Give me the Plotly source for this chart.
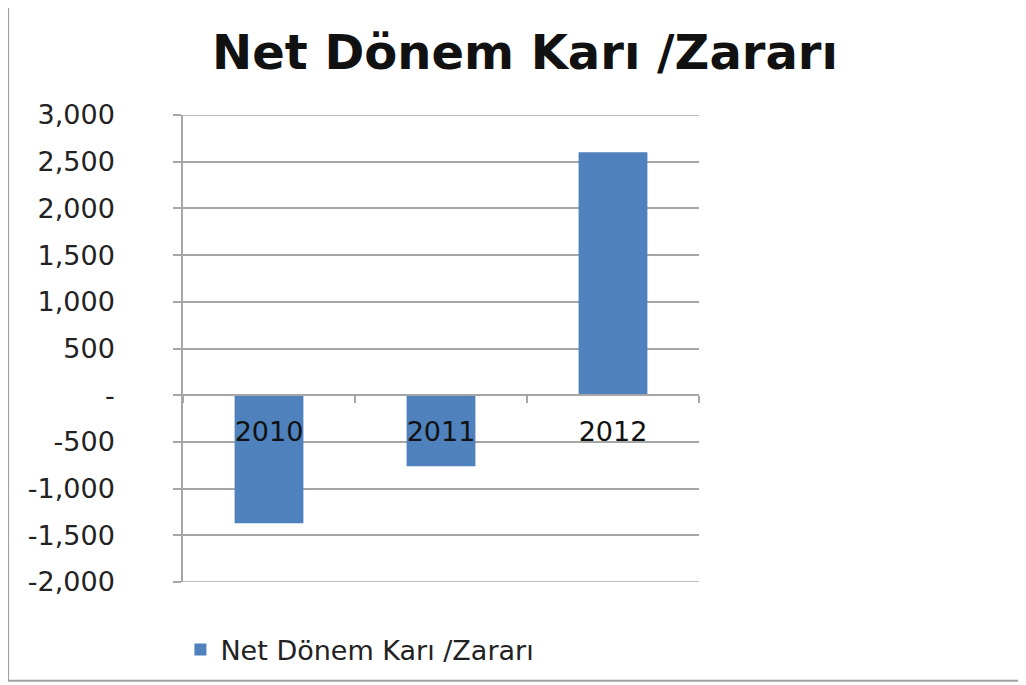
import plotly.graph_objects as go

years = ["2010", "2011", "2012"]
values = [-1370, -760, 2600]
series_name = "Net Dönem Karı /Zararı"
y_ticks = [-2000, -1500, -1000, -500, 0, 500, 1000, 1500, 2000, 2500, 3000]
y_tick_labels = ["-2,000", "-1,500", "-1,000", "-500", "-", "500", "1,000", "1,500", "2,000", "2,500", "3,000"]
y_min, y_max = y_ticks[0], y_ticks[-1]

GRID = "#a6a6a6"
BAR = "#4f81bd"
FONT = "DejaVu Sans"

fig = go.Figure()
fig.add_trace(go.Bar(x=years, y=values, name=series_name, marker_color=BAR,
                     marker_line_width=0, width=0.4, showlegend=True))

W, H = 1018, 677  # page has an 8px body offset
fig.update_layout(
    width=W, height=H,
    margin=dict(l=175, r=327, t=107, b=102),
    paper_bgcolor="white", plot_bgcolor="white",
    font=dict(family=FONT, size=25, color="#222222"),
    title=dict(text="<b>Net Dönem Karı /Zararı</b>", x=(525 - 8) / W, xref="container", xanchor="center",
               y=1 - (52 - 8) / H, yref="container", yanchor="middle",
               font=dict(family=FONT, size=48, color="#111111")),
    showlegend=True,
    legend=dict(x=-0.005, y=-0.143, xanchor="left", yanchor="middle", orientation="h",
                font=dict(family=FONT, size=27, color="#222222"), bgcolor="rgba(0,0,0,0)"),
    xaxis=dict(type="category", anchor="free", position=(0 - y_min) / (y_max - y_min),
               showline=True, linecolor=GRID,
               linewidth=1.5, ticks="outside", tickson="boundaries", ticklen=7, tickcolor=GRID,
               tickwidth=1.5, showgrid=False, ticklabelstandoff=13,
               tickfont=dict(family=FONT, size=27, color="#111111")),
    yaxis=dict(range=[y_min, y_max], tickvals=y_ticks, ticktext=y_tick_labels, showline=True,
               linecolor=GRID, linewidth=1.5, ticks="outside", ticklen=8, tickcolor=GRID,
               tickwidth=1.5, showgrid=True, gridcolor=GRID, gridwidth=1.5, zeroline=False,
               ticklabelstandoff=53, tickfont=dict(family=FONT, size=27, color="#222222")),
)

# gridlines at the range ends (Plotly omits them)
for v in (y_min, y_max):
    fig.add_hline(y=v, line=dict(color=GRID, width=1.5), layer="below")

# outer chart border
fig.add_shape(type="rect", xref="paper", yref="paper", x0=-0.339, x1=1.66, y0=-0.2115, y1=1.2436,
              line=dict(color="#a0a0a0", width=2), fillcolor="rgba(0,0,0,0)", layer="below")

fig.write_html("out.html")
